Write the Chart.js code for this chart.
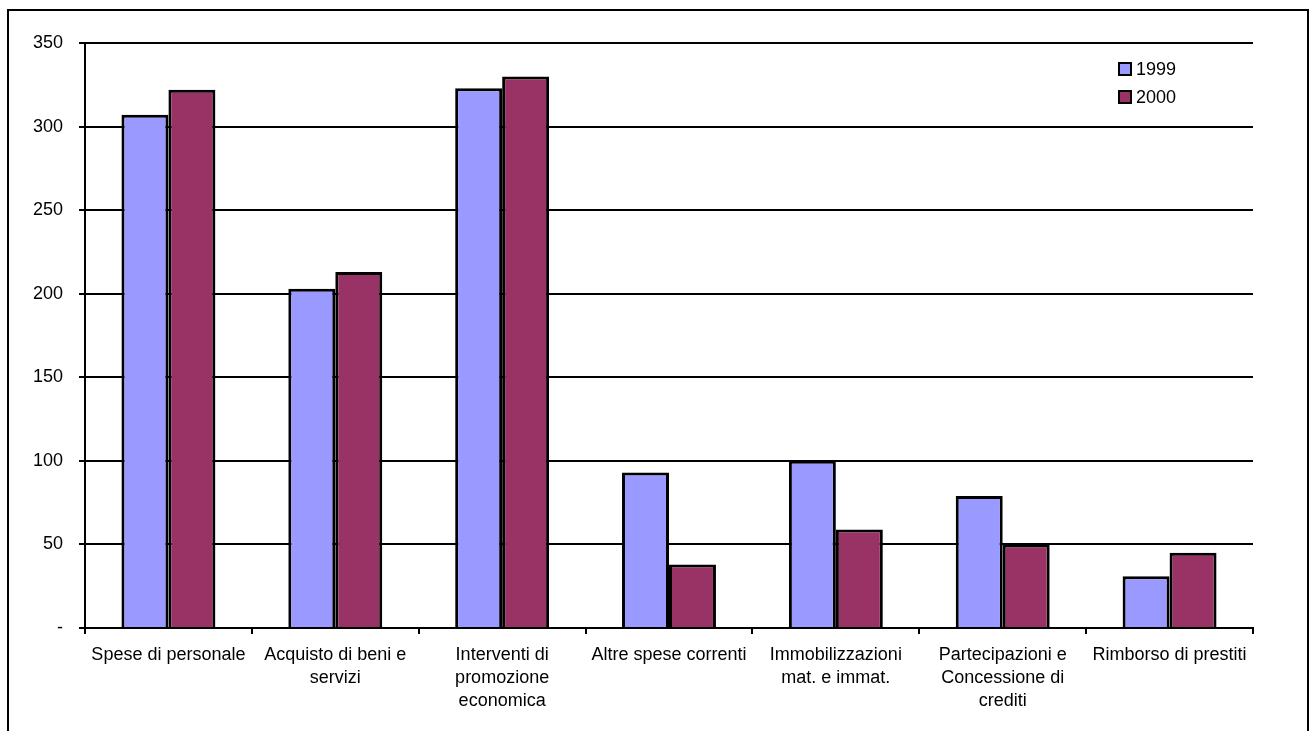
<!DOCTYPE html>
<html>
<head>
<meta charset="utf-8">
<script src="https://cdn.jsdelivr.net/npm/chart.js@4/dist/chart.umd.min.js"></script>
<style>
  html, body { margin: 0; padding: 0; background: #fff; }
  #wrap { width: 1316px; height: 731px; position: relative; }
</style>
</head>
<body>
<div id="wrap"><canvas id="c" width="1316" height="731"></canvas></div>
<script>
// Expenditure by category, 1999 vs 2000
const categories = [
  "Spese di personale",
  ["Acquisto di beni e", "servizi"],
  ["Interventi di", "promozione", "economica"],
  "Altre spese correnti",
  ["Immobilizzazioni", "mat. e immat."],
  ["Partecipazioni e", "Concessione di", "crediti"],
  "Rimborso di prestiti"
];
const seriesNames = ["1999", "2000"];
const values1999 = [307, 203, 323, 93, 100, 79, 31];
const values2000 = [322, 213, 330, 38, 59, 50, 45];
const yTicks = [0, 50, 100, 150, 200, 250, 300, 350];

const FONT = { family: "'Liberation Sans', Arial, sans-serif", size: 18, lineHeight: 1.3 };

// Outer frame around the whole figure
const framePlugin = {
  id: 'frame',
  afterDraw(chart) {
    const ctx = chart.ctx;
    ctx.save();
    ctx.strokeStyle = '#000';
    ctx.lineWidth = 2;
    ctx.strokeRect(8, 10, 1300, 740);
    ctx.restore();
  }
};

// Small legend inside the plot, top right
const legendPlugin = {
  id: 'insideLegend',
  afterDraw(chart) {
    const ctx = chart.ctx;
    ctx.save();
    ctx.font = FONT.size + 'px ' + FONT.family;
    ctx.textBaseline = 'middle';
    ctx.textAlign = 'left';
    chart.data.datasets.forEach((ds, i) => {
      const cy = 69 + i * 28;
      ctx.fillStyle = ds.backgroundColor;
      ctx.fillRect(1119, cy - 6, 12, 12);
      ctx.strokeStyle = '#000';
      ctx.lineWidth = 2;
      ctx.strokeRect(1119, cy - 6, 12, 12);
      ctx.fillStyle = '#000';
      ctx.fillText(ds.label, 1136, cy + 1);
    });
    ctx.restore();
  }
};

new Chart(document.getElementById('c'), {
  type: 'bar',
  data: {
    labels: categories,
    datasets: [
      { label: seriesNames[0], data: values1999, backgroundColor: '#9999FF',
        borderColor: '#000', borderWidth: 3, borderSkipped: 'bottom' },
      { label: seriesNames[1], data: values2000, backgroundColor: '#993366',
        borderColor: '#000', borderWidth: 3, borderSkipped: 'bottom' }
    ]
  },
  options: {
    responsive: false,
    animation: false,
    devicePixelRatio: 1,
    layout: { padding: { left: 0, right: 63, top: 43, bottom: 0 } },
    datasets: { bar: { categoryPercentage: 0.563, barPercentage: 1.0 } },
    plugins: { legend: { display: false }, tooltip: { enabled: false } },
    scales: {
      x: {
        offset: true,
        grid: { offset: true, drawOnChartArea: false, drawTicks: true, tickLength: 6,
                color: '#000', lineWidth: 2 },
        border: { display: true, color: '#000', width: 2 },
        ticks: { color: '#000', font: FONT, padding: 9, maxRotation: 0, autoSkip: false },
        afterFit(s) { s.height = 731 - 628; }
      },
      y: {
        min: 0, max: 350,
        afterBuildTicks(s) { s.ticks = yTicks.map(v => ({ value: v })); },
        grid: { color: '#000', lineWidth: 2, drawTicks: true, tickLength: 6 },
        border: { display: true, color: '#000', width: 2 },
        ticks: { color: '#000', font: FONT, padding: 16,
                 callback: v => v === 0 ? '-' : String(v) },
        afterFit(s) { s.width = 85; }
      }
    }
  },
  plugins: [framePlugin, legendPlugin]
});
</script>
</body>
</html>
